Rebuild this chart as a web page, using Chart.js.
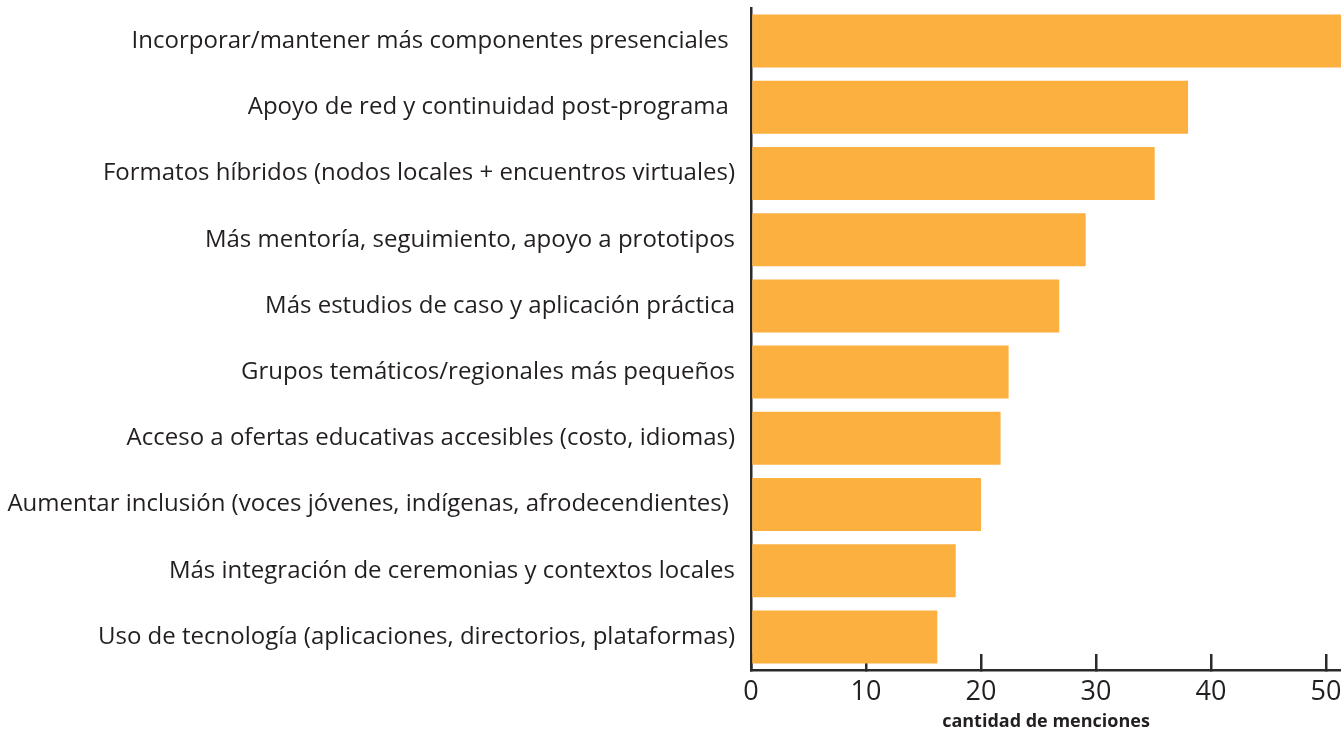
<!DOCTYPE html>
<html>
<head>
<meta charset="utf-8">
<script src="https://cdn.jsdelivr.net/npm/chart.js@4.4.1/dist/chart.umd.min.js"></script>
<style>
html,body{margin:0;padding:0;background:#fff;}
#wrap{position:relative;width:1341px;height:733px;}
</style>
</head>
<body>
<div id="wrap"><canvas id="c" width="1341" height="733"></canvas></div>
<script>
const categories = [
  "Incorporar/mantener más componentes presenciales ",
  "Apoyo de red y continuidad post-programa ",
  "Formatos híbridos (nodos locales + encuentros virtuales)",
  "Más mentoría, seguimiento, apoyo a prototipos",
  "Más estudios de caso y aplicación práctica",
  "Grupos temáticos/regionales más pequeños",
  "Acceso a ofertas educativas accesibles (costo, idiomas)",
  "Aumentar inclusión (voces jóvenes, indígenas, afrodecendientes) ",
  "Más integración de ceremonias y contextos locales",
  "Uso de tecnología (aplicaciones, directorios, plataformas)"
];
const mentions = [52, 38, 35.1, 29.1, 26.8, 22.4, 21.7, 20, 17.8, 16.2];
const xTicks = [0, 10, 20, 30, 40, 50];
const axisTitle = "cantidad de menciones";

const dark = '#2a2a2a';
new Chart(document.getElementById('c'), {
  type: 'bar',
  data: {
    labels: categories,
    datasets: [{
      data: mentions,
      backgroundColor: '#FBB040',
      borderWidth: 0,
      barPercentage: 0.8,
      categoryPercentage: 1.0
    }]
  },
  options: {
    indexAxis: 'y',
    responsive: false,
    animation: false,
    layout: { padding: { top: 8, right: 0, bottom: 0, left: 0 } },
    plugins: { legend: { display: false }, tooltip: { enabled: false } },
    scales: {
      x: {
        min: 0,
        max: 51.3,
        afterBuildTicks: (axis) => { axis.ticks = xTicks.map(v => ({ value: v })); },
        afterFit: (s) => { s.height = 63; s.paddingLeft = 0; s.paddingRight = 0; },
        grid: { drawOnChartArea: false, drawTicks: true, tickLength: -16, color: dark, lineWidth: 2.5 },
        border: { display: true, color: dark, width: 2.5 },
        ticks: { padding: 22, color: '#231f20', font: { family: 'Open Sans', size: 27 }, maxRotation: 0 },
        title: { display: true, text: axisTitle, color: '#231f20', font: { family: 'Open Sans', size: 18, weight: 'bold' }, padding: { top: 0, bottom: 0 } }
      },
      y: {
        afterFit: (s) => { s.width = 751; s.paddingTop = 0; s.paddingBottom = 0; },
        grid: { display: false, drawTicks: false },
        border: { display: true, color: dark, width: 2.5 },
        ticks: { padding: 16, color: '#231f20', font: { family: 'Open Sans', size: 24 } }
      }
    }
  }
});
</script>
</body>
</html>
